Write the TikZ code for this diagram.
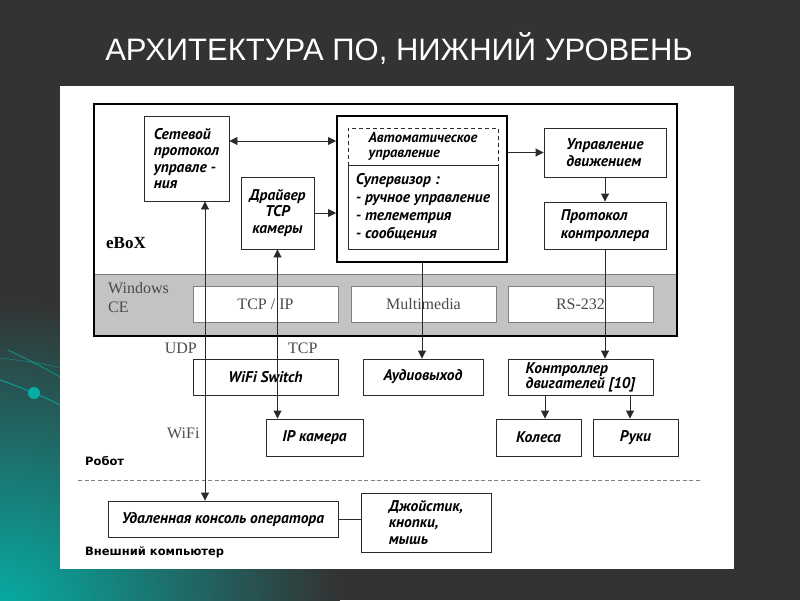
\documentclass[tikz,border=0pt]{standalone}
\usepackage{fontspec}
\usepackage{tikz}
\usetikzlibrary{arrows.meta,positioning}
\newfontfamily\titlefont{Liberation Sans}
\newfontfamily\boxfont{PT Sans}
\newfontfamily\serfont{Liberation Serif}
\newfontfamily\lblfont{DejaVu Sans}
\definecolor{slidebg}{HTML}{333333}
\definecolor{slideteal}{HTML}{06ADA5}
\definecolor{bandgray}{HTML}{C3C3C3}
\definecolor{linegray}{HTML}{2A2A2A}
\definecolor{textgray}{HTML}{4A4A4A}
\tikzset{
  blk/.style={draw=linegray, fill=white, line width=0.9pt, inner sep=2pt,
    font=\boxfont\bfseries\itshape\fontsize{15.5}{16.5}\selectfont},
  osblk/.style={draw=gray, fill=white, line width=0.8pt, text=textgray,
    font=\serfont\fontsize{16}{18}\selectfont},
  serlbl/.style={text=textgray, inner sep=0pt, font=\serfont\fontsize{16}{19}\selectfont},
  zonelbl/.style={anchor=west, inner sep=0pt, font=\lblfont\bfseries\fontsize{11.5}{13}\selectfont},
  conn/.style={draw=linegray, line width=0.9pt},
  >={Triangle[length=8pt,width=8pt]},
}
\begin{document}
\begin{tikzpicture}[x=1pt,y=-1pt]
    \useasboundingbox (0,0) rectangle (800,600);
    % slide background
    \fill[slidebg] (0,0) rectangle (800,600);
    \begin{scope}
      \clip (0,0) rectangle (800,600);
      \shade[inner color=slideteal, outer color=slidebg] (0,610) ellipse (340 and 310);
      \draw[slideteal, line width=0.7pt, opacity=0.5] (0,358) .. controls (25,361) and (45,364) .. (62,368);
      \draw[slideteal, line width=0.9pt, opacity=0.7] (8,350) .. controls (25,358) and (45,368) .. (62,378);
      \draw[slideteal, line width=1pt, opacity=0.8] (0,380) .. controls (20,387) and (45,397) .. (62,406);
      \fill[slideteal] (34,393) circle (6);
    \end{scope}
    \node[text=white, font=\titlefont\fontsize{31}{36}\selectfont] (title) at (399,48) {АРХИТЕКТУРА ПО, НИЖНИЙ УРОВЕНЬ};

    % white sheet
    \fill[white] (60,86) rectangle (734,569);

    % eBoX frame with Windows CE band
    \fill[bandgray] (94,274) rectangle (677,336);
    \draw[gray, line width=0.6pt] (94,274) -- (677,274);
    \node[draw=black, line width=2.6pt, minimum width=583, minimum height=232] (ebox) at (385.5,220) {};
    \node[anchor=west, inner sep=0pt, font=\serfont\bfseries\fontsize{17}{20}\selectfont] (eboxlbl) at (106,243) {eBoX};
    \node[serlbl, anchor=west, align=left] (wince) at (108,298) {Windows\\CE};

    % upper blocks
    \node[blk, minimum width=85, minimum height=85, align=left] (net) at (186.5,158.5) {Сетевой\\протокол\\управле -\\ния};
    \node[blk, minimum width=73, minimum height=72, align=center] (drv) at (277.5,213) {Драйвер\\TCP\\камеры};
    \node[draw=black, line width=2pt, minimum width=170, minimum height=146] (auto) at (422,189) {};
    \node[blk, dashed, dash pattern=on 4pt off 3pt, minimum width=150, minimum height=37, align=left, font=\boxfont\bfseries\itshape\fontsize{14.5}{15}\selectfont] (autot) at (423,146.5) {Автоматическое\\управление};
    \node[blk, minimum width=150, minimum height=84, align=left, font=\boxfont\bfseries\itshape\fontsize{15.5}{18}\selectfont] (sup) at (423,207) {Супервизор :\\- ручное управление\\- телеметрия\\- сообщения};
    \node[blk, minimum width=122, minimum height=49, align=left] (move) at (605,152.5) {Управление\\движением};
    \node[blk, minimum width=122, minimum height=47, align=left, font=\boxfont\bfseries\itshape\fontsize{15.5}{18}\selectfont] (proto) at (605,225.5) {Протокол\\контроллера};

    % Windows CE services
    \node[osblk, minimum width=145, minimum height=36] (tcpip) at (265.5,304) {TCP / IP};
    \node[osblk, minimum width=145, minimum height=36] (mm) at (423.5,304) {Multimedia};
    \node[osblk, minimum width=145, minimum height=36] (rs) at (580.5,304) {RS-232};

    % robot devices
    \node[blk, minimum width=145, minimum height=36] (wifi) at (265.5,377) {WiFi Switch};
    \node[blk, minimum width=120, minimum height=36] (audio) at (423,377) {Аудиовыход};
    \node[blk, minimum width=145, minimum height=36, align=left, font=\boxfont\bfseries\itshape\fontsize{15.5}{15}\selectfont] (ctrl) at (580.5,377) {Контроллер\\двигателей [10]};
    \node[blk, minimum width=97, minimum height=37] (ipcam) at (314.5,437.5) {IP камера};
    \node[blk, minimum width=85, minimum height=37] (wheels) at (538.5,437.5) {Колеса};
    \node[blk, minimum width=85, minimum height=37] (arms) at (635.5,437.5) {Руки};

    % external computer
    \node[blk, minimum width=230, minimum height=36] (console) at (223,519) {Удаленная консоль оператора};
    \node[blk, minimum width=130, minimum height=59, align=left] (joy) at (426,522.5) {Джойстик,\\кнопки,\\мышь};

    % link labels
    \node[serlbl, anchor=east] (udplbl) at (197,348) {UDP};
    \node[serlbl, anchor=west] (tcplbl) at (288,348) {TCP};
    \node[serlbl, anchor=west] (wifilbl) at (167,433) {WiFi};

    % robot / computer boundary
    \node[zonelbl] (robot) at (85,461) {Робот};
    \node[zonelbl] (extpc) at (85,552) {Внешний компьютер};
    \coordinate (sepl) at (78,480);
    \coordinate (sepr) at (702,480);
    \draw[gray, line width=0.8pt, dash pattern=on 4pt off 2.5pt] (sepl) -- (sepr);

    % connectors
    \coordinate (udp) at (205,0);
    \draw[conn, <->] ([yshift=17.5pt]net.east) -- ([yshift=17.5pt]net.east -| auto.west);
    \draw[conn, ->] (drv.east) -- (drv.east -| auto.west);
    \draw[conn, ->] (auto.east |- move.west) -- (move.west);
    \draw[conn, ->] (move.south) -- (proto.north);
    \draw[conn, ->] (auto.south) -- (auto.south |- audio.north);
    \draw[conn, ->] (proto.south) -- (proto.south |- ctrl.north);
    \draw[conn, ->] ([xshift=6.5pt]wheels.north |- ctrl.south) -- ([xshift=6.5pt]wheels.north);
    \draw[conn, ->] ([xshift=-5.5pt]arms.north |- ctrl.south) -- ([xshift=-5.5pt]arms.north);
    \draw[conn, <->] (net.south -| udp) -- (console.north -| udp);
    \draw[conn, <->] (drv.south) -- (drv.south |- ipcam.north);
    \draw[conn] (console.east) -- (console.east -| joy.west);
\end{tikzpicture}
\end{document}
